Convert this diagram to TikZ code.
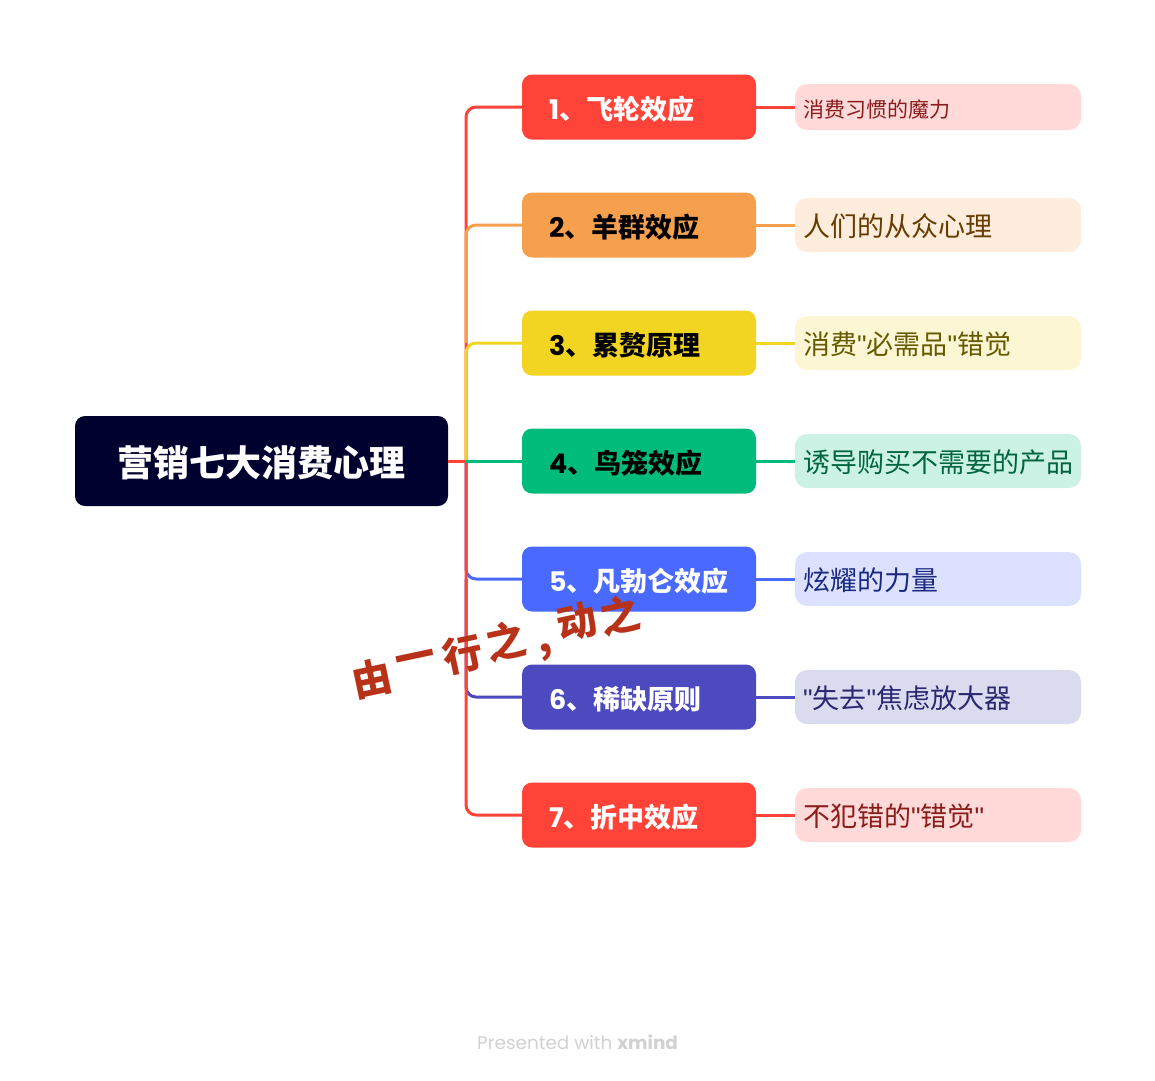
\documentclass[tikz,border=0pt]{standalone}
\usepackage{fontspec}
\setmainfont{Noto Sans CJK SC}
\newfontfamily\brandfont{Poppins}
\newfontfamily\quotefont{Liberation Sans}
\newcommand{\sq}{{\quotefont\symbol{34}}}
\newcommand{\dg}[1]{{\brandfont #1}}
\definecolor{rootc}{HTML}{00012E}
\definecolor{c1}{HTML}{FF4339}
\definecolor{c2}{HTML}{F6A04D}
\definecolor{c3}{HTML}{F2D423}
\definecolor{c4}{HTML}{00BC7B}
\definecolor{c5}{HTML}{4A69FF}
\definecolor{c6}{HTML}{4D49BE}
\definecolor{c7}{HTML}{FF4339}
\definecolor{n1}{HTML}{FFDAD8}
\definecolor{n2}{HTML}{FEECDC}
\definecolor{n3}{HTML}{FDF6D4}
\definecolor{n4}{HTML}{CCF2E5}
\definecolor{n5}{HTML}{DBE1FF}
\definecolor{n6}{HTML}{DBDBF0}
\definecolor{n7}{HTML}{FFDAD8}
\definecolor{t1}{HTML}{8A1C1C}
\definecolor{t2}{HTML}{663C00}
\definecolor{t3}{HTML}{665A00}
\definecolor{t4}{HTML}{00663F}
\definecolor{t5}{HTML}{1A2A80}
\definecolor{t6}{HTML}{2A2870}
\definecolor{t7}{HTML}{8A1C1C}
\definecolor{inkc}{HTML}{B8321A}
\tikzset{
  rootbox/.style={fill=rootc,text=white,rounded corners=10,minimum width=373,minimum height=90,inner sep=0,text height=32,text depth=0.6,font=\fontsize{36}{36}\selectfont\bfseries},
  branchbox/.style={rounded corners=10,minimum height=65,text width=180,inner xsep=27,inner ysep=0,align=left,text height=24,text depth=0,font=\fontsize{27}{27}\selectfont\bfseries},
  notebox/.style={rounded corners=12,minimum height=54,text width=270,inner xsep=8,inner ysep=0,align=left,text height=23,text depth=1,font=\fontsize{27}{27}\selectfont},
  link/.style={line width=3,rounded corners=10},
  inkchar/.style={text=inkc,rotate=12,inner sep=0,font=\fontsize{40}{40}\selectfont\bfseries}
}
\begin{document}
\begin{tikzpicture}[x=1pt,y=-1pt,line join=round]
\useasboundingbox (0,0) rectangle (1155,1080);
\node[rootbox] (root) at (261.5,461) {营销七大消费心理};
\coordinate (trunk) at (466,461);
\foreach \i/\y/\txt/\tc in {1/107/{飞轮效应}/white,2/225/{羊群效应}/black,3/343/{累赘原理}/black,4/461/{鸟笼效应}/black,5/579/{凡勃仑效应}/white,6/697/{稀缺原则}/white,7/815/{折中效应}/white}{
  \node[branchbox,fill=c\i,text=\tc] (b\i) at (639,\y) {\dg{\i}、\txt};
}
\node[notebox,fill=n1,text=t1,minimum height=46,text height=20,text depth=0,font=\fontsize{21}{21}\selectfont] (n1) at (938,107) {消费习惯的魔力};
\foreach \i/\y/\txt in {2/225/{人们的从众心理},3/343/{消费\sq 必需品\sq 错觉},4/461/{诱导购买不需要的产品},5/579/{炫耀的力量},6/697/{\sq 失去\sq 焦虑放大器},7/815/{不犯错的\sq 错觉\sq}}{
  \node[notebox,fill=n\i,text=t\i] (n\i) at (938,\y) {\txt};
}
% trunk, drawn so that the colours overlap as they do on the map
\draw[link,c1] (trunk) |- (b1.west);
\draw[link,c2] (trunk |- b3.west) |- (b2.west);
\draw[link,c3] (trunk) |- (b3.west);
\draw[link,c5] (trunk) |- (b5.west);
\draw[link,c6] (trunk |- b5.west) |- (b6.west);
\draw[link,c7] (trunk) |- (b7.west);
\draw[line width=3,c1] (root.east) -- (trunk);
\draw[line width=3,c4] (trunk) -- (b4.west);
\foreach \i in {1,...,7}{
  \draw[line width=3,c\i] (b\i.east) -- (n\i.west);
}
% handwriting across the map
\foreach \k/\x/\y/\ch in {1/372/678/由,2/416/662/一,3/463/654/行,4/506/641/之,5/546/652/{,},6/577/622/动,7/620/615/之}{
  \node[inkchar] (ink\k) at (\x,\y) {\ch};
}
\node[text=black!18,font=\fontsize{18.4}{18.4}\selectfont\brandfont,inner sep=0] (brand) at (577.5,1042) {Presented with \textbf{xmind}};
\end{tikzpicture}
\end{document}
